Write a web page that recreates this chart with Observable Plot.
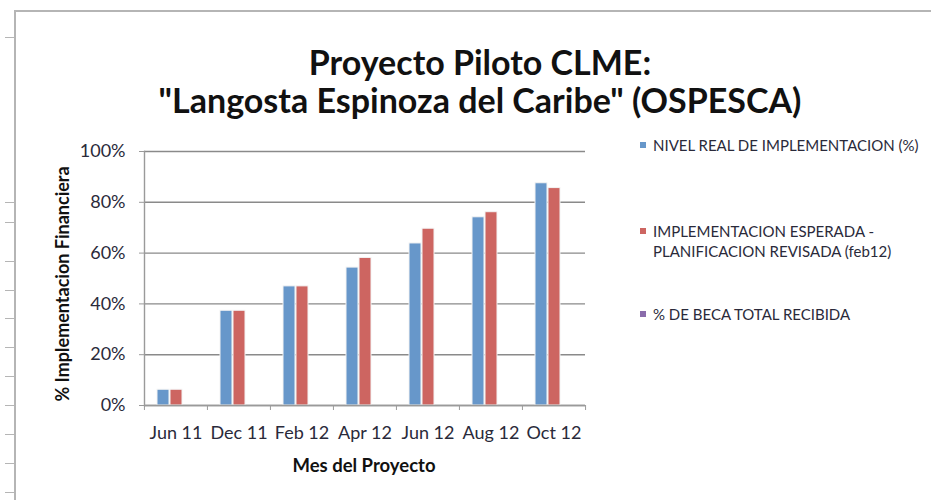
<!DOCTYPE html>
<html>
<head>
<meta charset="utf-8">
<script src="https://cdn.jsdelivr.net/npm/d3@7"></script>
<script src="https://cdn.jsdelivr.net/npm/@observablehq/plot@0.6"></script>
<style>
  html, body { margin: 0; padding: 0; background: #fff; }
  #wrap { position: relative; width: 931px; height: 500px; overflow: hidden; font-family: Lato, "Open Sans", sans-serif; }
  #frame { position: absolute; left: 14px; top: 10px; width: 930px; height: 500px; border-left: 2px solid #b5b5b5; border-top: 2px solid #b5b5b5; }
  .rowtick { position: absolute; left: 5px; width: 10px; height: 1px; background: #b5b5b5; }
  #title { position: absolute; left: 0; width: 960px; top: 43px; text-align: center; font-weight: 700; font-size: 34px; line-height: 38px; color: #111; }
  #chart { position: absolute; left: 0; top: 0; }
  .leg { position: absolute; left: 640px; font-size: 15px; line-height: 20px; color: #2a2a3a; }
  .leg .sw { position: absolute; left: 0; width: 6px; height: 6px; top: 7px; }
  .leg .tx { margin-left: 13px; white-space: nowrap; }
  #ylabel { position: absolute; left: 62px; top: 284px; transform: translate(-50%, -50%) rotate(-90deg); white-space: nowrap; font-weight: 700; font-size: 18px; color: #111; }
  #xlabel { position: absolute; left: 364px; top: 465px; transform: translate(-50%, -50%); white-space: nowrap; font-weight: 700; font-size: 18.5px; color: #111; }
</style>
</head>
<body>
<div id="wrap">
  <div id="frame"></div>
  <div id="title">Proyecto Piloto CLME:<br>"Langosta Espinoza del Caribe" (OSPESCA)</div>
  <div id="chart"></div>
  <div id="legend"></div>
  <div id="ylabel">% Implementacion Financiera</div>
  <div id="xlabel">Mes del Proyecto</div>
</div>
<script>
// ---- data ----
const months = ["Jun 11", "Dec 11", "Feb 12", "Apr 12", "Jun 12", "Aug 12", "Oct 12"];
const seriesNames = [
  "NIVEL REAL DE IMPLEMENTACION (%)",
  "IMPLEMENTACION ESPERADA - PLANIFICACION REVISADA (feb12)",
  "% DE BECA TOTAL RECIBIDA"
];
const legendLines = [
  ["NIVEL REAL DE IMPLEMENTACION (%)"],
  ["IMPLEMENTACION ESPERADA -", "PLANIFICACION REVISADA (feb12)"],
  ["% DE BECA TOTAL RECIBIDA"]
];
const nivelReal = [0.062, 0.373, 0.469, 0.543, 0.638, 0.741, 0.875];
const esperada  = [0.062, 0.373, 0.469, 0.581, 0.696, 0.761, 0.856];
const beca      = [null, null, null, null, null, null, null];
const yTicks = [0, 0.2, 0.4, 0.6, 0.8, 1.0];
const colors = ["#6797CA", "#CD6561", "#8A6CAB"];

// ---- layout (styles) ----
const W = 931, H = 500;
const mL = 143, mR = 346, mT = 151, mB = 95;
const halfBand = (W - mL - mR) / months.length / 2;

const rows = [];
[nivelReal, esperada, beca].forEach((arr, s) => {
  months.forEach((m, i) => rows.push({month: m, series: seriesNames[s], value: arr[i]}));
});

const chart = Plot.plot({
  width: W, height: H,
  marginLeft: mL, marginRight: mR, marginTop: mT, marginBottom: mB,
  style: {fontFamily: "Lato, 'Open Sans', sans-serif", color: "#2a2a3a", background: "transparent"},
  fx: {domain: months, padding: 0, label: null},
  x: {domain: seriesNames, paddingInner: 0.1, paddingOuter: 0.9, axis: null},
  y: {domain: [0, 1], label: null},
  color: {domain: seriesNames, range: colors},
  marks: [
    Plot.gridY(yTicks, {stroke: "#8a8a8a", strokeOpacity: 1, strokeWidth: 1.4}),
    Plot.barY(rows, {fx: "month", x: "series", y: "value", fill: "series", stroke: "#f4f4f4", strokeWidth: 1}),
    Plot.ruleY([0], {stroke: "#9a9a9a", strokeWidth: 1.4}),
    Plot.frame({anchor: "left", facet: "super", stroke: "#9a9a9a", strokeWidth: 1.4}),
    Plot.axisY(yTicks, {tickFormat: d3.format(".0%"), tickSize: 5, tickPadding: 14, fontSize: 18,
      stroke: "#9a9a9a", label: null}),
    Plot.axisFx({anchor: "bottom", tickSize: 5, dx: -halfBand, tickFormat: () => "", stroke: "#9a9a9a", label: null}),
    Plot.axisFx({anchor: "bottom", ticks: [months[months.length - 1]], tickSize: 5, dx: halfBand, tickFormat: () => "", stroke: "#9a9a9a", label: null}),
    Plot.axisFx({anchor: "bottom", tickSize: 0, tickPadding: 21, fontSize: 18, label: null})
  ]
});
document.getElementById("chart").appendChild(chart);

// legend
const legendTops = [135, 221, 304];
const leg = document.getElementById("legend");
legendLines.forEach((lines, i) => {
  const d = document.createElement("div");
  d.className = "leg";
  d.style.top = legendTops[i] + "px";
  d.innerHTML = `<span class="sw" style="background:${colors[i]}"></span><div class="tx">${lines.join("<br>")}</div>`;
  leg.appendChild(d);
});

// spreadsheet row ticks on the left border (decoration)
const rowTickYs = [37, 202, 222, 261, 290, 318, 347, 376, 405, 434, 463, 492];
rowTickYs.forEach(y => {
  const t = document.createElement("div");
  t.className = "rowtick";
  t.style.top = y + "px";
  document.getElementById("wrap").appendChild(t);
});
</script>
</body>
</html>
